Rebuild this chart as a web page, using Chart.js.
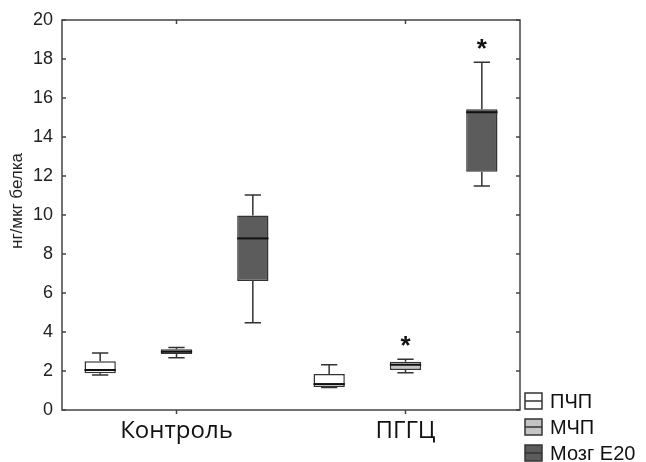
<!DOCTYPE html>
<html lang="ru">
<head>
<meta charset="UTF-8">
<title>нг/мкг белка</title>
<script src="https://cdn.jsdelivr.net/npm/chart.js"></script>
<style>
body { margin: 0; background: #fff; }
#boxChart { display: block; }
</style>
</head>
<body>
<canvas id="boxChart" width="646" height="462"></canvas>
<script>
// groups on the x axis and the three series
const groups = ['Контроль', 'ПГГЦ'];
const seriesNames = ['ПЧП', 'МЧП', 'Мозг E20'];
const seriesColors = ['#ffffff', '#c4c4c4', '#5c5c5c'];

// [min, q1, median, q3, max] for each group
const pchp = [[1.80, 1.88, 2.05, 2.50, 2.92], [1.15, 1.18, 1.33, 1.85, 2.32]];
const mchp = [[2.68, 2.87, 2.99, 3.11, 3.20], [1.91, 2.05, 2.32, 2.48, 2.60]];
const mozg = [[4.48, 6.62, 8.80, 9.97, 11.03], [11.49, 12.22, 15.27, 15.42, 17.83]];
const boxStats = [pchp, mchp, mozg];

// asterisk above the box
const significant = [[false, false], [false, true], [false, true]];

const yMin = 0;
const yMax = 20;
const yStep = 2;

const boxPlugin = {
    id: 'boxPlugin',
    afterDatasetsDraw(chart) {
        const ctx = chart.ctx;
        const ys = chart.scales.y;
        const xs = chart.scales.x;
        const area = chart.chartArea;
        ctx.save();

        // whiskers, medians, asterisks
        boxStats.forEach((stats, i) => {
            const meta = chart.getDatasetMeta(i);
            meta.data.forEach((bar, j) => {
                const s = stats[j];
                const x = bar.x;
                const w = bar.width;
                const yMinP = ys.getPixelForValue(s[0]);
                const yQ1 = ys.getPixelForValue(s[1]);
                const yMed = ys.getPixelForValue(s[2]);
                const yQ3 = ys.getPixelForValue(s[3]);
                const yMaxP = ys.getPixelForValue(s[4]);
                ctx.strokeStyle = '#333';
                ctx.lineWidth = 1.5;
                ctx.beginPath();
                ctx.moveTo(x, yQ3); ctx.lineTo(x, yMaxP);
                ctx.moveTo(x, yQ1); ctx.lineTo(x, yMinP);
                ctx.moveTo(x - w * 0.26, yMaxP); ctx.lineTo(x + w * 0.26, yMaxP);
                ctx.moveTo(x - w * 0.26, yMinP); ctx.lineTo(x + w * 0.26, yMinP);
                ctx.stroke();
                ctx.strokeStyle = '#111';
                ctx.lineWidth = 2;
                ctx.beginPath();
                ctx.moveTo(x - w / 2, yMed); ctx.lineTo(x + w / 2, yMed);
                ctx.stroke();
                if (significant[i][j]) {
                    ctx.fillStyle = '#111';
                    ctx.font = 'bold 26px "Liberation Sans", Arial, sans-serif';
                    ctx.textAlign = 'center';
                    ctx.textBaseline = 'middle';
                    ctx.fillText('*', x, yMaxP - 12);
                }
            });
        });

        // frame
        ctx.strokeStyle = '#444';
        ctx.lineWidth = 1.5;
        ctx.strokeRect(area.left, area.top, area.right - area.left, area.bottom - area.top);

        // inner ticks on left and right, outer ticks on the x axis
        ctx.beginPath();
        for (let v = yMin; v <= yMax; v += yStep) {
            const y = ys.getPixelForValue(v);
            ctx.moveTo(area.left, y); ctx.lineTo(area.left + 4, y);
            ctx.moveTo(area.right, y); ctx.lineTo(area.right - 4, y);
        }
        groups.forEach((g, j) => {
            const x = xs.getPixelForValue(j);
            ctx.moveTo(x, area.bottom); ctx.lineTo(x, area.bottom + 4);
            ctx.moveTo(x, area.top); ctx.lineTo(x, area.top + 4);
        });
        ctx.stroke();

        // y title
        ctx.fillStyle = '#222';
        ctx.font = '17px "Liberation Sans", Arial, sans-serif';
        ctx.textAlign = 'center';
        ctx.textBaseline = 'middle';
        ctx.translate(17, 201);
        ctx.rotate(-Math.PI / 2);
        ctx.fillText('нг/мкг белка', 0, 0);
        ctx.setTransform(1, 0, 0, 1, 0, 0);

        // legend
        seriesNames.forEach((name, i) => {
            const top = 393 + i * 26;
            ctx.fillStyle = seriesColors[i];
            ctx.fillRect(525, top, 17, 16);
            ctx.strokeStyle = '#333';
            ctx.lineWidth = 1.5;
            ctx.strokeRect(525, top, 17, 16);
            ctx.beginPath();
            ctx.moveTo(525, top + 8); ctx.lineTo(542, top + 8);
            ctx.stroke();
            ctx.fillStyle = '#111';
            ctx.font = '20px "Liberation Sans", Arial, sans-serif';
            ctx.textAlign = 'left';
            ctx.textBaseline = 'middle';
            ctx.fillText(name, 550, top + 9);
        });
        ctx.restore();
    }
};

const ctx = document.getElementById('boxChart').getContext('2d');
const chart = new Chart(ctx, {
    type: 'bar',
    data: {
        labels: groups,
        datasets: seriesNames.map((name, i) => ({
            label: name,
            data: boxStats[i].map(s => [s[1], s[3]]),
            backgroundColor: seriesColors[i],
            borderColor: '#333',
            borderWidth: 1.5,
            borderSkipped: false,
            categoryPercentage: 1.0,
            barPercentage: 0.41
        }))
    },
    options: {
        responsive: false,
        animation: false,
        layout: { padding: { top: 20, right: 126, left: 0, bottom: 0 } },
        plugins: {
            legend: { display: false },
            tooltip: { enabled: false }
        },
        scales: {
            x: {
                offset: true,
                grid: { display: false, drawTicks: false },
                border: { display: false },
                ticks: {
                    color: '#111',
                    padding: 7,
                    font: { family: '"Open Sans", sans-serif', size: 24 }
                },
                afterFit(scale) { scale.height = 52; }
            },
            y: {
                min: yMin,
                max: yMax,
                grid: { display: false, drawTicks: false },
                border: { display: false },
                ticks: {
                    stepSize: yStep,
                    color: '#222',
                    padding: 9,
                    font: { family: '"Liberation Sans", Arial, sans-serif', size: 18 }
                },
                afterFit(scale) { scale.width = 62; }
            }
        }
    },
    plugins: [boxPlugin]
});
</script>
</body>
</html>
